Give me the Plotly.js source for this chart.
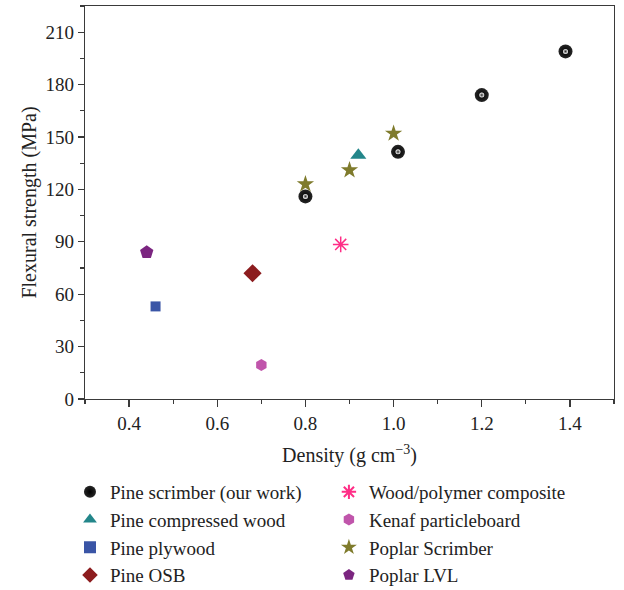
<!DOCTYPE html>
<html>
<head>
<meta charset="utf-8">
<script src="https://cdn.plot.ly/plotly-3.0.1.min.js"></script>
<style>html,body{margin:0;padding:0;background:#fff;}#chart{width:624px;height:590px;}</style>
</head>
<body>
<div id="chart"></div>
<script>
// Data
const seriesNames = ["Pine scrimber (our work)", "Pine compressed wood", "Pine plywood", "Pine OSB",
                     "Wood/polymer composite", "Kenaf particleboard", "Poplar Scrimber", "Poplar LVL"];
const pineScrimberX = [0.80, 1.01, 1.20, 1.39];
const pineScrimberY = [116, 141.5, 174, 199];
const pineCompressedX = [0.92];
const pineCompressedY = [139.5];
const pinePlywoodX = [0.46];
const pinePlywoodY = [53];
const pineOsbX = [0.68];
const pineOsbY = [72];
const woodPolymerX = [0.88];
const woodPolymerY = [88.5];
const kenafX = [0.70];
const kenafY = [19.5];
const poplarScrimberX = [0.80, 0.90, 1.00];
const poplarScrimberY = [123, 131, 152];
const poplarLvlX = [0.44];
const poplarLvlY = [84];
const xTickVals = [0.4, 0.6, 0.8, 1.0, 1.2, 1.4];
const xTickText = ["0.4", "0.6", "0.8", "1.0", "1.2", "1.4"];
const yTickVals = [0, 30, 60, 90, 120, 150, 180, 210];

const FONT = "Liberation Serif, Times New Roman, serif";

const traces = [
  {x: pineScrimberX, y: pineScrimberY, name: seriesNames[0], legend: "legend",
   marker: {symbol: "circle", size: 14, color: "#262626", line: {width: 0},
            gradient: {type: "radial", color: "#000000"}}},
  {x: pineScrimberX, y: pineScrimberY, name: seriesNames[0] + " highlight", showlegend: false,
   marker: {symbol: "circle", size: 5, color: "#ffffff", line: {width: 0},
            gradient: {type: "radial", color: "#262626"}}},
  {x: pineCompressedX, y: pineCompressedY, name: seriesNames[1], legend: "legend",
   marker: {symbol: "triangle-up", size: 14, color: "#23868a", line: {width: 0}}},
  {x: pinePlywoodX, y: pinePlywoodY, name: seriesNames[2], legend: "legend",
   marker: {symbol: "square", size: 10, color: "#3a55a6", line: {width: 0}}},
  {x: pineOsbX, y: pineOsbY, name: seriesNames[3], legend: "legend",
   marker: {symbol: "diamond", size: 14, color: "#8c1c1e", line: {width: 0}}},
  {x: woodPolymerX, y: woodPolymerY, name: seriesNames[4], legend: "legend2",
   marker: {symbol: "asterisk-open", size: 13, color: "#ff2d86", line: {width: 1.5, color: "#ff2d86"}}},
  {x: kenafX, y: kenafY, name: seriesNames[5], legend: "legend2",
   marker: {symbol: "hexagon", size: 12, color: "#c055ab", line: {width: 0}}},
  {x: poplarScrimberX, y: poplarScrimberY, name: seriesNames[6], legend: "legend2",
   marker: {symbol: "star", size: 13, color: "#7f7b2c", line: {width: 0}}},
  {x: poplarLvlX, y: poplarLvlY, name: seriesNames[7], legend: "legend2",
   marker: {symbol: "pentagon", size: 14, color: "#7b2580", line: {width: 0}}}
].map(t => Object.assign({type: "scatter", mode: "markers"}, t));

const axisCommon = {
  showline: true, linecolor: "#3a3a3a", linewidth: 1.3, mirror: true,
  ticks: "outside", tickwidth: 1.2, tickcolor: "#3a3a3a",
  showgrid: false, zeroline: false, automargin: false,
  tickfont: {family: FONT, size: 19, color: "#222"}
};

const legendCommon = {
  xref: "paper", yref: "container", xanchor: "left", yanchor: "top", orientation: "v",
  font: {family: FONT, size: 19, color: "#222"}, bgcolor: "rgba(0,0,0,0)",
  itemwidth: 30, itemsizing: "constant"
};

const layout = {
  width: 624, height: 590,
  margin: {l: 10, r: 10, t: 6, b: 0},
  paper_bgcolor: "#fff", plot_bgcolor: "#fff",
  font: {family: FONT, size: 19, color: "#222"},
  xaxis: Object.assign({}, axisCommon, {
    domain: [0.1242, 1], ticklen: 7,
    range: [0.3, 1.5], tickvals: xTickVals, ticktext: xTickText,
    minor: {dtick: 0.1, tick0: 0.3, ticks: "outside", ticklen: 4, tickwidth: 1.2, tickcolor: "#3a3a3a"},
    title: {text: "Density (g cm<sup>−3</sup>)", font: {family: FONT, size: 20, color: "#222"}, standoff: 15}
  }),
  yaxis: Object.assign({}, axisCommon, {
    domain: [0.1585, 1], ticklen: 6,
    range: [0, 225], tickvals: yTickVals,
    minor: {dtick: 15, tick0: 0, ticks: "outside", ticklen: 4, tickwidth: 1.2, tickcolor: "#3a3a3a"},
    title: {text: "Flexural strength (MPa)", font: {family: FONT, size: 20, color: "#222"}, standoff: 3}
  }),
  legend: Object.assign({}, legendCommon, {x: 0.0993, y: 0.1983}),
  legend2: Object.assign({}, legendCommon, {x: 0.528, y: 0.1983}),
  showlegend: true
};

Plotly.newPlot("chart", traces, layout, {displayModeBar: false, staticPlot: true});
</script>
</body>
</html>
